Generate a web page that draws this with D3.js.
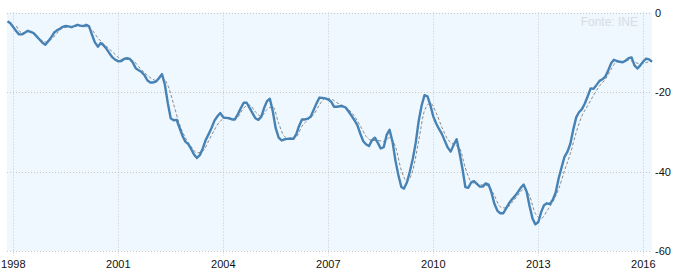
<!DOCTYPE html>
<html>
<head>
<meta charset="utf-8">
<script src="https://d3js.org/d3.v7.min.js"></script>
<style>
  body { margin: 0; background: #fff; }
  text { font-family: "Liberation Sans", Arial, sans-serif; }
  .grid line { stroke: #c8c8c8; stroke-dasharray: 1,2; }
</style>
</head>
<body>
<svg width="677" height="277"></svg>
<script>
// monthly series, Nov 1997 .. Apr 2016
const firstMonth = new Date(1997, 10, 1);
const monthly = [
  -2.2, -2.7,
  -3.7, -4.7, -5.5, -5.5, -5.1, -4.6, -4.9, -5.2, -6.0, -6.8, -7.6, -8.1,
  -7.2, -6.2, -5.1, -4.5, -4.1, -3.6, -3.4, -3.5, -3.7, -3.4, -3.1, -3.3,
  -3.4, -3.1, -3.5, -5.6, -7.5, -8.6, -7.7, -8.3, -9.2, -10.3, -11.3, -11.9,
  -12.3, -12.2, -11.7, -11.5, -11.7, -12.6, -14.0, -14.5, -15.0, -15.8, -17.1, -17.6,
  -17.6, -17.3, -16.5, -15.5, -18.1, -22.8, -26.6, -27.1, -27.0, -29.0, -31.0, -32.5,
  -33.1, -34.4, -35.7, -36.6, -35.9, -34.2, -32.1, -30.6, -29.0, -27.2, -26.1, -25.3,
  -26.4, -26.5, -26.6, -26.9, -26.9, -25.6, -24.1, -22.7, -22.7, -24.0, -25.3, -26.6,
  -27.0, -26.2, -24.1, -22.3, -21.7, -24.9, -29.1, -31.5, -32.2, -31.9, -31.8, -31.7,
  -31.8, -30.6, -28.6, -26.9, -26.9, -26.7, -26.2, -24.5, -22.8, -21.4, -21.5, -21.6,
  -21.9, -22.5, -23.7, -23.7, -23.6, -23.6, -23.9, -24.9, -26.0, -27.1, -28.4, -30.5,
  -32.4, -33.2, -33.6, -32.1, -31.5, -32.8, -34.2, -33.9, -30.8, -29.5, -32.5, -37.2,
  -40.9, -43.9, -44.3, -42.7, -40.0, -36.8, -32.8, -27.3, -23.4, -20.8, -21.1, -23.3,
  -26.2, -28.0, -29.3, -30.6, -32.3, -34.0, -35.0, -33.3, -31.9, -35.3, -39.3, -43.9,
  -44.1, -42.7, -42.4, -43.1, -43.8, -43.8, -43.0, -43.3, -45.4, -48.2, -49.9, -50.5,
  -50.5, -49.2, -48.0, -47.0, -46.2, -45.2, -44.1, -43.3, -45.1, -48.7, -51.8, -53.3,
  -52.7, -50.1, -48.5, -48.0, -48.2, -47.1, -45.3, -41.7, -38.9, -36.3, -35.0, -33.0,
  -29.4, -26.3, -25.1, -24.3, -22.9, -21.0, -19.1, -19.2, -18.2, -17.2, -16.8, -16.1,
  -14.5, -12.7, -11.9, -12.2, -12.4, -12.5, -12.1, -11.5, -11.3, -13.3, -14.1, -13.3,
  -12.3, -11.6, -11.8, -12.4
];

// smoothed series (dashed), every second month from Feb 1998
const smoothFirst = new Date(1998, 1, 1);
const smoothed = [
  -3.4, -5.1, -4.8, -5.3, -6.6, -7.4, -6.8, -5.2, -3.9, -3.6, -3.5, -3.4,
  -3.6, -4.4, -6.4, -7.9, -9.2, -10.6, -11.8, -11.8, -12.1, -13.6, -15.2, -16.4,
  -17.1, -16.4, -18.3, -23.1, -28.1, -31.5, -33.8, -35.3, -34.9, -32.3, -29.5, -27.3,
  -26.6, -26.9, -26.3, -24.0, -23.3, -25.0, -26.1, -24.4, -23.7, -27.9, -31.2, -31.8,
  -31.3, -28.6, -27.0, -25.7, -23.2, -21.6, -21.8, -22.7, -23.4, -24.4, -26.1, -28.5,
  -31.2, -32.2, -32.2, -32.4, -31.5, -33.7, -39.7, -42.4, -39.7, -32.3, -24.7, -22.8,
  -25.3, -28.9, -31.9, -33.2, -34.1, -39.1, -42.6, -43.2, -43.4, -43.7, -46.1, -48.9,
  -49.2, -47.8, -46.0, -44.5, -46.1, -50.6, -51.8, -49.9, -47.6, -44.4, -39.8, -35.5,
  -30.1, -26.0, -23.4, -20.8, -18.5, -16.8, -14.2, -12.4, -12.4, -12.0, -12.5, -12.9,
  -12.6, -12.1
];

const yearTicks = [1998, 2001, 2004, 2007, 2010, 2013, 2016];
const valueTicks = [0, -20, -40, -60];
const sourceLabel = "Fonte: INE";

const svg = d3.select("svg");
const plotLeft = 7, plotRight = 652, plotTop = 12.5, plotBottom = 251;

const x = d3.scaleTime()
  .domain([firstMonth, new Date(2016, 3, 1)])
  .range([plotLeft + 0.5, plotRight]);
const y = d3.scaleLinear().domain([-60, 0]).range([plotBottom, plotTop]);

svg.append("rect")
  .attr("x", plotLeft).attr("y", plotTop)
  .attr("width", plotRight - plotLeft).attr("height", plotBottom - plotTop)
  .attr("fill", "#eff7ff");

const grid = svg.append("g").attr("class", "grid");
grid.selectAll(".h").data(valueTicks).enter().append("line")
  .attr("x1", plotLeft).attr("x2", plotRight)
  .attr("y1", d => Math.round(y(d)) + 0.5).attr("y2", d => Math.round(y(d)) + 0.5);
grid.selectAll(".v").data(yearTicks).enter().append("line")
  .attr("x1", d => Math.round(x(new Date(d, 0, 1))) + 0.5)
  .attr("x2", d => Math.round(x(new Date(d, 0, 1))) + 0.5)
  .attr("y1", plotTop).attr("y2", plotBottom + 5);

// x axis labels
svg.append("g").selectAll("text").data(yearTicks).enter().append("text")
  .attr("x", d => x(new Date(d, 0, 1)))
  .attr("y", 268)
  .attr("text-anchor", "middle")
  .attr("font-size", "11px")
  .attr("fill", "#111")
  .text(d => d);

// y axis labels (right side)
svg.append("g").selectAll("text").data(valueTicks).enter().append("text")
  .attr("x", 655)
  .attr("y", d => y(d) + 4)
  .attr("font-size", "11px")
  .attr("fill", "#111")
  .text(d => d);

svg.append("text")
  .attr("x", 638).attr("y", 26)
  .attr("text-anchor", "end")
  .attr("font-size", "12px")
  .attr("fill", "#d8dde2")
  .text(sourceLabel);

const smoothData = smoothed.map((v, i) => ({ date: d3.timeMonth.offset(smoothFirst, i * 2), v }));
const mainData = monthly.map((v, i) => ({ date: d3.timeMonth.offset(firstMonth, i), v }));

const line = d3.line().x(d => x(d.date)).y(d => y(d.v));

svg.append("path")
  .datum(smoothData)
  .attr("fill", "none")
  .attr("stroke", "#8a8a8a")
  .attr("stroke-width", 1)
  .attr("stroke-dasharray", "3,2")
  .attr("d", line.curve(d3.curveMonotoneX));

svg.append("path")
  .datum(mainData)
  .attr("fill", "none")
  .attr("stroke", "#4682b4")
  .attr("stroke-width", 2.4)
  .attr("stroke-linejoin", "round")
  .attr("d", line.curve(d3.curveLinear));
</script>
</body>
</html>
